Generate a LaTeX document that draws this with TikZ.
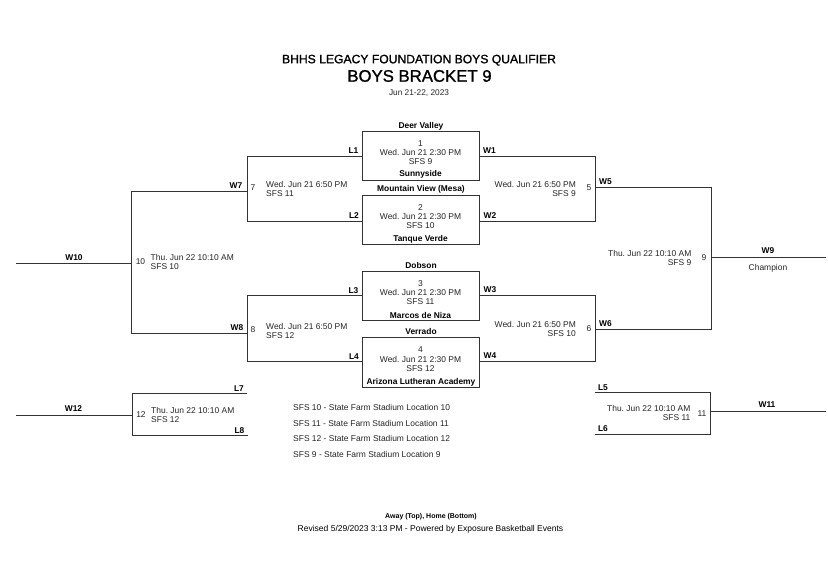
\documentclass[tikz,border=0pt]{standalone}
\usepackage{fontspec}
\setmainfont{Liberation Sans}
\frenchspacing
\tikzset{
  x=1pt,y=-1pt,
  ln/.style={draw=black!80,line width=0.85pt},
  gamebox/.style={draw=black!80,line width=0.85pt,minimum width=117pt,minimum height=49pt,inner sep=0pt,outer sep=0pt,anchor=north west},
  txt/.style={font=\fontsize{8.45}{8.8}\selectfont,inner sep=0pt,text=black!85},
  single/.style={txt,text height=6pt,text depth=0pt},
  lab/.style={font=\fontsize{8.4}{10}\selectfont\bfseries,inner sep=0pt,text=black,text height=6pt,text depth=0pt},
  info/.style={txt,align=center},
  leftinfo/.style={txt,align=left,anchor=west},
  rightinfo/.style={txt,align=right,anchor=east},
}
\begin{document}
\begin{tikzpicture}
\useasboundingbox (0,0) rectangle (828,575);
\fill[white] (0,0) rectangle (828,575);
% titles
\node[inner sep=0pt,font=\fontsize{12.15}{13}\selectfont,text height=8.5pt,text depth=0pt,draw=none] (t1) at (419,59) {\special{pdf:literal 2 Tr 0.15 w}BHHS LEGACY FOUNDATION BOYS QUALIFIER\special{pdf:literal 0 Tr}};
\node[inner sep=0pt,font=\fontsize{16.75}{18}\selectfont,text height=11.5pt,text depth=0pt] (t2) at (419.5,76) {\special{pdf:literal 2 Tr 0.2 w}BOYS BRACKET 9\special{pdf:literal 0 Tr}};
\node[single,font=\fontsize{8.3}{9}\selectfont] (t3) at (419,93) {Jun 21-22, 2023};
% boxes
\node[gamebox] (g1) at (362,131) {};
\node[gamebox] (g2) at (362,195) {};
\node[gamebox] (g3) at (362,271) {};
\node[gamebox,minimum height=50pt] (g4) at (362,337) {};
% free ends
\coordinate (a7) at (247,156); \coordinate (b7) at (247,221);
\coordinate (a5) at (595,156); \coordinate (b5) at (595,221);
\coordinate (a8) at (247,295); \coordinate (b8) at (247,361);
\coordinate (a6) at (595,295); \coordinate (b6) at (595,361);
\coordinate (m7) at (247,191); \coordinate (m8) at (247,333);
\coordinate (m5) at (595,187); \coordinate (m6) at (595,329);
\coordinate (j10a) at (131.5,191); \coordinate (j10b) at (131.5,333);
\coordinate (j9a) at (711,187); \coordinate (j9b) at (711,329);
\coordinate (e10) at (16,263.5); \coordinate (j10) at (131.5,263.5);
\coordinate (e9) at (826,257); \coordinate (j9) at (711,257);
\coordinate (l7) at (247,393.5); \coordinate (l8) at (248,435);
\coordinate (j12a) at (132,393.5); \coordinate (j12b) at (132,435);
\coordinate (e12) at (16,415); \coordinate (j12) at (132,415);
\coordinate (l5) at (595,392); \coordinate (l6) at (595,434);
\coordinate (j11a) at (710.5,392); \coordinate (j11b) at (710.5,434);
\coordinate (e11) at (826,411.5); \coordinate (j11) at (710.5,411.5);
% connectors
\draw[ln] (g1.west |- a7) -- (a7) -- (b7) -- (g2.west |- b7);
\draw[ln] (g1.east |- a5) -- (a5) -- (b5) -- (g2.east |- b5);
\draw[ln] (g3.west |- a8) -- (a8) -- (b8) -- (g4.west |- b8);
\draw[ln] (g3.east |- a6) -- (a6) -- (b6) -- (g4.east |- b6);
\draw[ln] (m7) -- (j10a) -- (j10b) -- (m8);
\draw[ln] (m5) -- (j9a) -- (j9b) -- (m6);
\draw[ln] (e10) -- (j10);
\draw[ln] (e9) -- (j9);
\draw[ln] (l7) -- (j12a) -- (j12b) -- (l8);
\draw[ln] (l5) -- (j11a) -- (j11b) -- (l6);
\draw[ln] (e12) -- (j12);
\draw[ln] (e11) -- (j11);
% team names
\node[lab] (n1) at (421,125.5) {Deer Valley};
\node[lab] (n2) at (420.5,174) {Sunnyside};
\node[lab] (n3) at (421,189) {Mountain View (Mesa)};
\node[lab] (n4) at (420.5,238) {Tanque Verde};
\node[lab] (n5) at (421,265) {Dobson};
\node[lab] (n6) at (420.5,315) {Marcos de Niza};
\node[lab] (n7) at (421,331.5) {Verrado};
\node[lab] (n8) at (421,381) {Arizona Lutheran Academy};
% game text
\node[info] (i1) at (420.5,152.5) {1\\[1pt]Wed. Jun 21 2:30 PM\\SFS 9};
\node[info] (i2) at (420.5,216.5) {2\\[1pt]Wed. Jun 21 2:30 PM\\SFS 10};
\node[info] (i3) at (420.5,292.5) {3\\[1pt]Wed. Jun 21 2:30 PM\\SFS 11};
\node[info] (i4) at (420.5,359) {4\\[1pt]Wed. Jun 21 2:30 PM\\SFS 12};
% labels
\node[lab] (L1) at (353.5,151) {L1};
\node[lab] (L2) at (354,215.5) {L2};
\node[lab] (L3) at (353.5,290.5) {L3};
\node[lab] (L4) at (354,356.5) {L4};
\node[lab] (W1) at (489.5,151) {W1};
\node[lab] (W2) at (490,215.5) {W2};
\node[lab] (W3) at (490,289.5) {W3};
\node[lab] (W4) at (490,355.5) {W4};
\node[lab] (W5) at (605.5,181.5) {W5};
\node[lab] (W6) at (605.5,323) {W6};
\node[lab] (W7) at (236,185.5) {W7};
\node[lab] (W8) at (237,327) {W8};
\node[lab] (W9) at (768,250) {W9};
\node[lab] (W10) at (74,257) {W10};
\node[lab] (W11) at (767,404.5) {W11};
\node[lab] (W12) at (73.5,408) {W12};
\node[lab] (L5) at (603,387) {L5};
\node[lab] (L6) at (603,428) {L6};
\node[lab] (L7) at (239,388) {L7};
\node[lab] (L8) at (239.5,430) {L8};
\node[single] (ch) at (768,267) {Champion};
% bracket game text
\node[single] (d7) at (253,188) {7};
\node[leftinfo] (x7) at (266,189.3) {Wed. Jun 21 6:50 PM\\SFS 11};
\node[single] (d5) at (589,188) {5};
\node[rightinfo] (x5) at (576,189.3) {Wed. Jun 21 6:50 PM\\SFS 9};
\node[single] (d8) at (253,329) {8};
\node[leftinfo] (x8) at (266,330.7) {Wed. Jun 21 6:50 PM\\SFS 12};
\node[single] (d6) at (589,328) {6};
\node[rightinfo] (x6) at (576,329.3) {Wed. Jun 21 6:50 PM\\SFS 10};
\node[single] (d10) at (140.5,262) {10};
\node[leftinfo] (x10) at (150.5,262.3) {Thu. Jun 22 10:10 AM\\SFS 10};
\node[single] (d9) at (704,257.5) {9};
\node[rightinfo] (x9) at (691.5,258.3) {Thu. Jun 22 10:10 AM\\SFS 9};
\node[single] (d12) at (141,414.5) {12};
\node[leftinfo] (x12) at (151,414.7) {Thu. Jun 22 10:10 AM\\SFS 12};
\node[single] (d11) at (702,413) {11};
\node[rightinfo] (x11) at (690.5,413.2) {Thu. Jun 22 10:10 AM\\SFS 11};
% legend
\node[single,anchor=west] (k1) at (293,407) {SFS 10 - State Farm Stadium Location 10};
\node[single,anchor=west] (k2) at (293,423) {SFS 11 - State Farm Stadium Location 11};
\node[single,anchor=west] (k3) at (293,438.5) {SFS 12 - State Farm Stadium Location 12};
\node[single,anchor=west] (k4) at (293,454) {SFS 9 - State Farm Stadium Location 9};
% footer
\node[inner sep=0pt,font=\fontsize{7}{8}\selectfont\bfseries,text height=5pt,text depth=0pt] (f1) at (431,516) {Away (Top), Home (Bottom)};
\node[single,font=\fontsize{8.5}{9}\selectfont,text=black] (f2) at (430.5,528) {Revised 5/29/2023 3:13 PM - Powered by Exposure Basketball Events};
\end{tikzpicture}
\end{document}
